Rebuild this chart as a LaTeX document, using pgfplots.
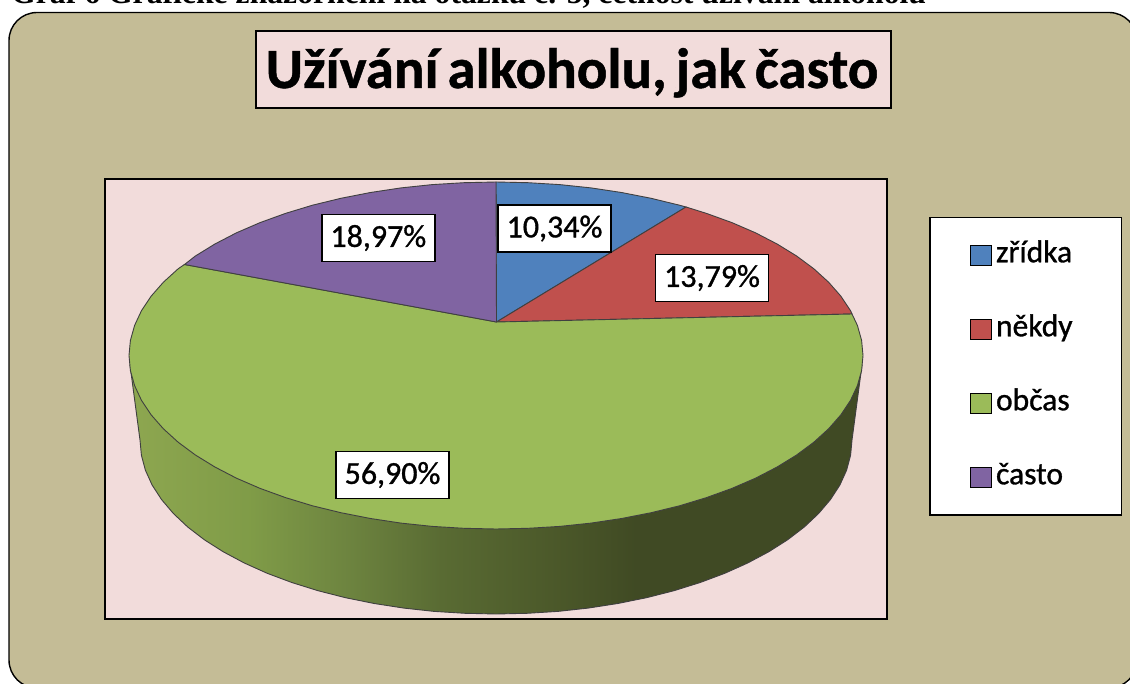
\documentclass[border=0pt]{standalone}
\usepackage{fontspec}
\setmainfont{Carlito}
\newfontfamily\capfont{Liberation Serif}
\newfontfamily\titlefont[WordSpace=0.7,BoldFeatures={FakeBold=0.8}]{Carlito}
\newfontfamily\labfont[FakeBold=1]{Carlito}
\usepackage{pgfplots}
\pgfplotsset{compat=1.18}
\definecolor{framec}{HTML}{C4BC96}
\definecolor{plotc}{HTML}{F2DCDB}
\definecolor{cblue}{HTML}{4F81BD}
\definecolor{cred}{HTML}{C0504D}
\definecolor{cgreen}{HTML}{9BBB59}
\definecolor{cpurple}{HTML}{8064A2}
\pgfdeclarehorizontalshading{sideshade}{100bp}{
 rgb(0bp)=(0.56,0.66,0.32);
 rgb(25.7bp)=(0.55,0.65,0.31);
 rgb(33.2bp)=(0.50,0.61,0.28);
 rgb(39.7bp)=(0.43,0.52,0.25);
 rgb(46.2bp)=(0.35,0.42,0.20);
 rgb(54.7bp)=(0.29,0.34,0.16);
 rgb(59.6bp)=(0.25,0.29,0.14);
 rgb(100bp)=(0.25,0.29,0.14)}
\begin{document}
\begin{tikzpicture}
\path[use as bounding box,clip] (0,0) rectangle (1130pt,684pt);
\begin{axis}[
  at={(0,0)},anchor=south west,
  width=1130pt,height=684pt,scale only axis,
  xmin=0,xmax=1130,ymin=0,ymax=684,y dir=reverse,
  hide axis,clip=false,
  legend style={at={(axis cs:929,217)},anchor=north west,draw=black,line width=1.5pt,fill=white,
    inner xsep=40pt,inner ysep=23.5pt,font=\labfont\fontsize{31.5}{36}\selectfont,
    row sep=46pt,
    nodes={inner sep=1pt,text height=20pt,text depth=6pt,anchor=west,line width=0.4pt},
    cells={anchor=west}},
  legend cell align=left,
  legend image code/.code={\draw[#1,draw=black,line width=1.3pt] (0pt,-10pt) rectangle (21pt,10pt);},
]
% frame and plot area
\draw[fill=framec,draw=black,line width=1.4pt,rounded corners=28pt] (axis cs:9,12.5) rectangle (axis cs:1137,688);
\draw[fill=plotc,draw=black,line width=1.4pt] (axis cs:105,179) rectangle (axis cs:887,619);
\draw[fill=plotc,draw=black,line width=1.4pt] (axis cs:256,31) rectangle (axis cs:891,108);
\node[anchor=base west,inner sep=0pt] at (axis cs:11,3.5) {\capfont\bfseries\fontsize{31.7}{36}\selectfont Graf 6 Grafické znázornění na otázku č. 5, četnost užívání alkoholu};
\node[anchor=base,inner sep=0pt] at (axis cs:572,88) {\titlefont\fontsize{57}{64}\selectfont\bfseries Užívání alkoholu, jak často};
% pie side
\addplot[forget plot,shade,shading=sideshade,draw=black!75,line width=0.9pt] coordinates {
(130,365)(140,440)(141.4,455.2)(145.4,470.2)(152.1,485)(161.5,499.5)(173.4,513.5)(187.7,527)(204.4,539.8)(223.3,551.8)(244.3,563)(267.2,573.3)(291.8,582.5)(318,590.7)(345.5,597.7)(374.2,603.5)(403.9,608.1)(434.2,611.4)(465,613.3)(496,614)(527,613.3)(557.8,611.4)(588.1,608.1)(617.8,603.5)(646.5,597.7)(674,590.7)(700.2,582.5)(724.8,573.3)(747.7,563)(768.7,551.8)(787.6,539.8)(804.3,527)(818.6,513.5)(830.5,499.5)(839.9,485)(846.6,470.2)(850.6,455.2)(852,440)(862,365)
} -- cycle;
% zřídka
\addplot[fill=cblue,draw=black!75,line width=0.9pt] coordinates {
(496.5,322)(496,182)(528,182.7)(559.7,184.6)(591,187.9)(621.5,192.5)(651.1,198.3)(679.5,205.2)(686,207)
} -- cycle;
\addlegendentry{\hspace*{3pt}zřídka}
% někdy
\addplot[fill=cred,draw=black!75,line width=0.9pt] coordinates {
(496.5,322)(686,207)(706.5,213.4)(731.9,222.6)(755.5,232.8)(777.1,244)(796.6,256)(813.8,268.75)(828.6,282.2)(840.9,296.2)(850.5,310.6)(852,314)
} -- cycle;
\addlegendentry{\hspace*{3pt}někdy\hspace*{8pt}}
% občas
\addplot[fill=cgreen,draw=black!75,line width=0.9pt] coordinates {
(496.5,322)(852,314)(857.4,325.4)(861.6,340.4)(863,355.5)(861.6,370.6)(857.4,385.6)(850.5,400.4)(840.9,414.8)(828.6,428.8)(813.8,442.25)(796.6,455)(777.1,467)(755.5,478.2)(731.9,488.4)(706.5,497.6)(679.5,505.8)(651.1,512.7)(621.5,518.5)(591,523.1)(559.7,526.4)(528,528.3)(496,529)(464,528.3)(432.3,526.4)(401,523.1)(370.5,518.5)(340.9,512.7)(312.5,505.8)(285.5,497.6)(260.1,488.4)(236.5,478.2)(214.9,467)(195.4,455)(178.2,442.25)(163.4,428.8)(151.1,414.8)(141.5,400.4)(134.6,385.6)(130.4,370.6)(129,355.5)(130.4,340.4)(134.6,325.4)(141.5,310.6)(151.1,296.2)(163.4,282.2)(178.2,268.75)(184.5,264.5)
} -- cycle;
\addlegendentry{\hspace*{3pt}občas}
% často
\addplot[fill=cpurple,draw=black!75,line width=0.9pt] coordinates {
(496.5,322)(184.5,264.5)(195.4,256)(214.9,244)(236.5,232.8)(260.1,222.6)(285.5,213.4)(312.5,205.2)(340.9,198.3)(370.5,192.5)(401,187.9)(432.3,184.6)(464,182.7)(496,182)
} -- cycle;
\addlegendentry{\hspace*{3pt}často}
% data labels
\tikzset{lab/.style={fill=white,draw=black,line width=1.4pt,inner sep=0pt,minimum width=113pt,minimum height=47pt,font=\labfont\fontsize{32}{36}\selectfont}}
\node[lab] at (axis cs:554.5,228.5) {10,34\%};
\node[lab] at (axis cs:712,278) {13,79\%};
\node[lab] at (axis cs:392.5,475) {56,90\%};
\node[lab] at (axis cs:378.3,238) {18,97\%};
\end{axis}
\end{tikzpicture}
\end{document}
